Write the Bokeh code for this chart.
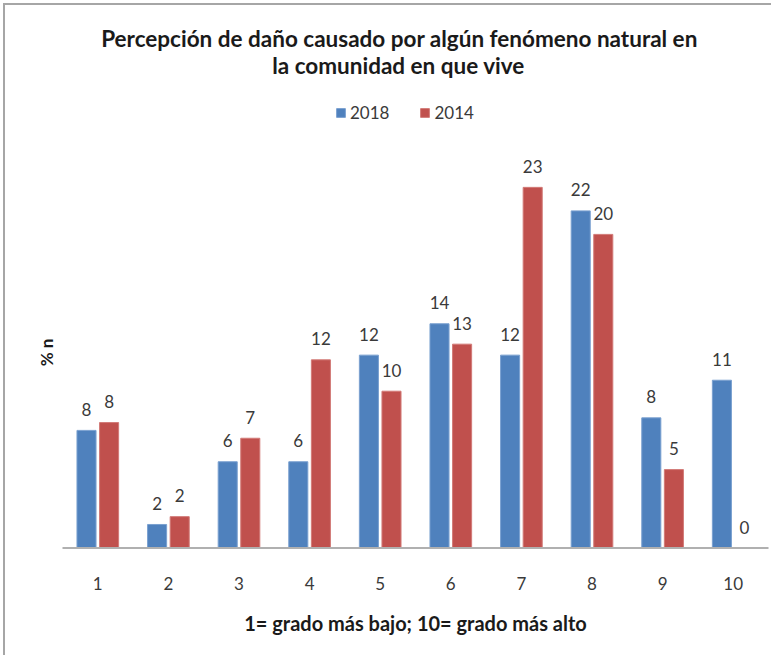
import math
from bokeh.plotting import figure
from bokeh.models import ColumnDataSource, Range1d, Label, Legend, LegendItem
from bokeh.transform import dodge
from bokeh.core.properties import value
from bokeh.embed import file_html
from bokeh.resources import INLINE

# ---- data ----
categories = ["1", "2", "3", "4", "5", "6", "7", "8", "9", "10"]
values_2018 = [7.5, 1.5, 5.5, 5.5, 12.3, 14.3, 12.3, 21.5, 8.3, 10.7]
labels_2018 = ["8", "2", "6", "6", "12", "14", "12", "22", "8", "11"]
values_2014 = [8, 2, 7, 12, 10, 13, 23, 20, 5, 0]
labels_2014 = ["8", "2", "7", "12", "10", "13", "23", "20", "5", "0"]
series_names = ["2018", "2014"]

title_line1 = "Percepción de daño causado por algún fenómeno natural en"
title_line2 = "la comunidad en que vive"
x_title = "1= grado más bajo; 10= grado más alto"
y_title = "% n"

# ---- style / layout ----
BLUE = "#4F81BD"
RED = "#C0504D"
FONT = "Lato"
TXT = "#3a3a3a"
DARK = "#1a1a1a"

W, H = 768, 652
ORIGIN = 5            # margin + border offset of the canvas in the page
PX_X = 70.6           # pixels per category
PX_Y = 15.68          # pixels per percentage unit
AXIS_LEFT_PX = 62     # page x of the category axis start
BASE_PX = 547.5       # page y of the zero line

def fx(px):
    return 0.5 + (px - AXIS_LEFT_PX) / PX_X

def fy(py):
    return (BASE_PX - py) / PX_Y

xs = [i + 1 for i in range(len(categories))]
src = ColumnDataSource(dict(x=xs, cat=categories, v18=values_2018, l18=labels_2018,
                            v14=values_2014, l14=labels_2014))

p = figure(width=W, height=H, output_backend="svg", toolbar_location=None,
           x_range=Range1d(fx(ORIGIN), fx(ORIGIN + W)),
           y_range=Range1d(fy(ORIGIN + H), fy(ORIGIN)),
           x_axis_location=None, y_axis_location=None,
           min_border=0)
p.title.visible = False
p.outline_line_color = None
p.grid.visible = False
p.styles = {"margin-left": "3px", "margin-top": "3px",
            "border-left": "2px solid #a6a6a6", "border-top": "2px solid #a6a6a6"}

OFF = 0.16
BW = 0.27
r18 = p.vbar(x=dodge("x", -OFF), top="v18", width=BW, source=src,
             fill_color=BLUE, line_color="#7aa0d0", line_width=1)
r14 = p.vbar(x=dodge("x", OFF), top="v14", width=BW, source=src,
             fill_color=RED, line_color="#d27a77", line_width=1)

# value labels
for col, lab, sign in (("v18", "l18", -1), ("v14", "l14", 1)):
    p.text(x=dodge("x", sign * OFF), y=col, text=lab, source=src,
           text_align="center", text_baseline="middle", y_offset=-21,
           text_font=value(FONT), text_font_size="17px", text_color=TXT)

# category axis line and tick labels
p.segment(x0=[0.5], x1=[len(categories) + 0.5], y0=[0], y1=[0],
          line_color="#b0b0b0", line_width=2)
p.text(x="x", y=0, text="cat", source=src, text_align="center",
       text_baseline="middle", y_offset=35,
       text_font=value(FONT), text_font_size="17px", text_color=TXT)

# axis titles
p.add_layout(Label(x=(len(categories) + 1) / 2, y=0, y_offset=-75, text=x_title,
                   text_align="center", text_baseline="middle", text_font=FONT,
                   text_font_size="20px", text_font_style="bold", text_color=DARK))
p.add_layout(Label(x=fx(45.5), y=fy(352), text=y_title, angle=math.pi / 2,
                   text_align="center", text_baseline="middle", text_font=FONT,
                   text_font_size="17px", text_font_style="bold", text_color=DARK))

# chart title
p.add_layout(Label(x=fx(399), y=fy(38), text=title_line1,
                   text_align="center", text_baseline="middle", text_font=FONT,
                   text_font_size="22.5px", text_font_style="bold", text_color=DARK))
p.add_layout(Label(x=fx(398), y=fy(65), text=title_line2,
                   text_align="center", text_baseline="middle", text_font=FONT,
                   text_font_size="22.5px", text_font_style="bold", text_color=DARK))

legend = Legend(items=[LegendItem(label=series_names[0], renderers=[r18]),
                       LegendItem(label=series_names[1], renderers=[r14])],
                orientation="horizontal",
                location=(335 - ORIGIN, (ORIGIN + H) - 123),
                glyph_width=11, glyph_height=11, label_height=11,
                label_text_font=FONT, label_text_font_size="17px",
                label_text_color=TXT, label_text_baseline="middle",
                border_line_color=None, background_fill_alpha=0,
                spacing=30, padding=0, margin=0, label_standoff=4)
p.add_layout(legend)

open("out.html", "w").write(file_html(p, INLINE))
